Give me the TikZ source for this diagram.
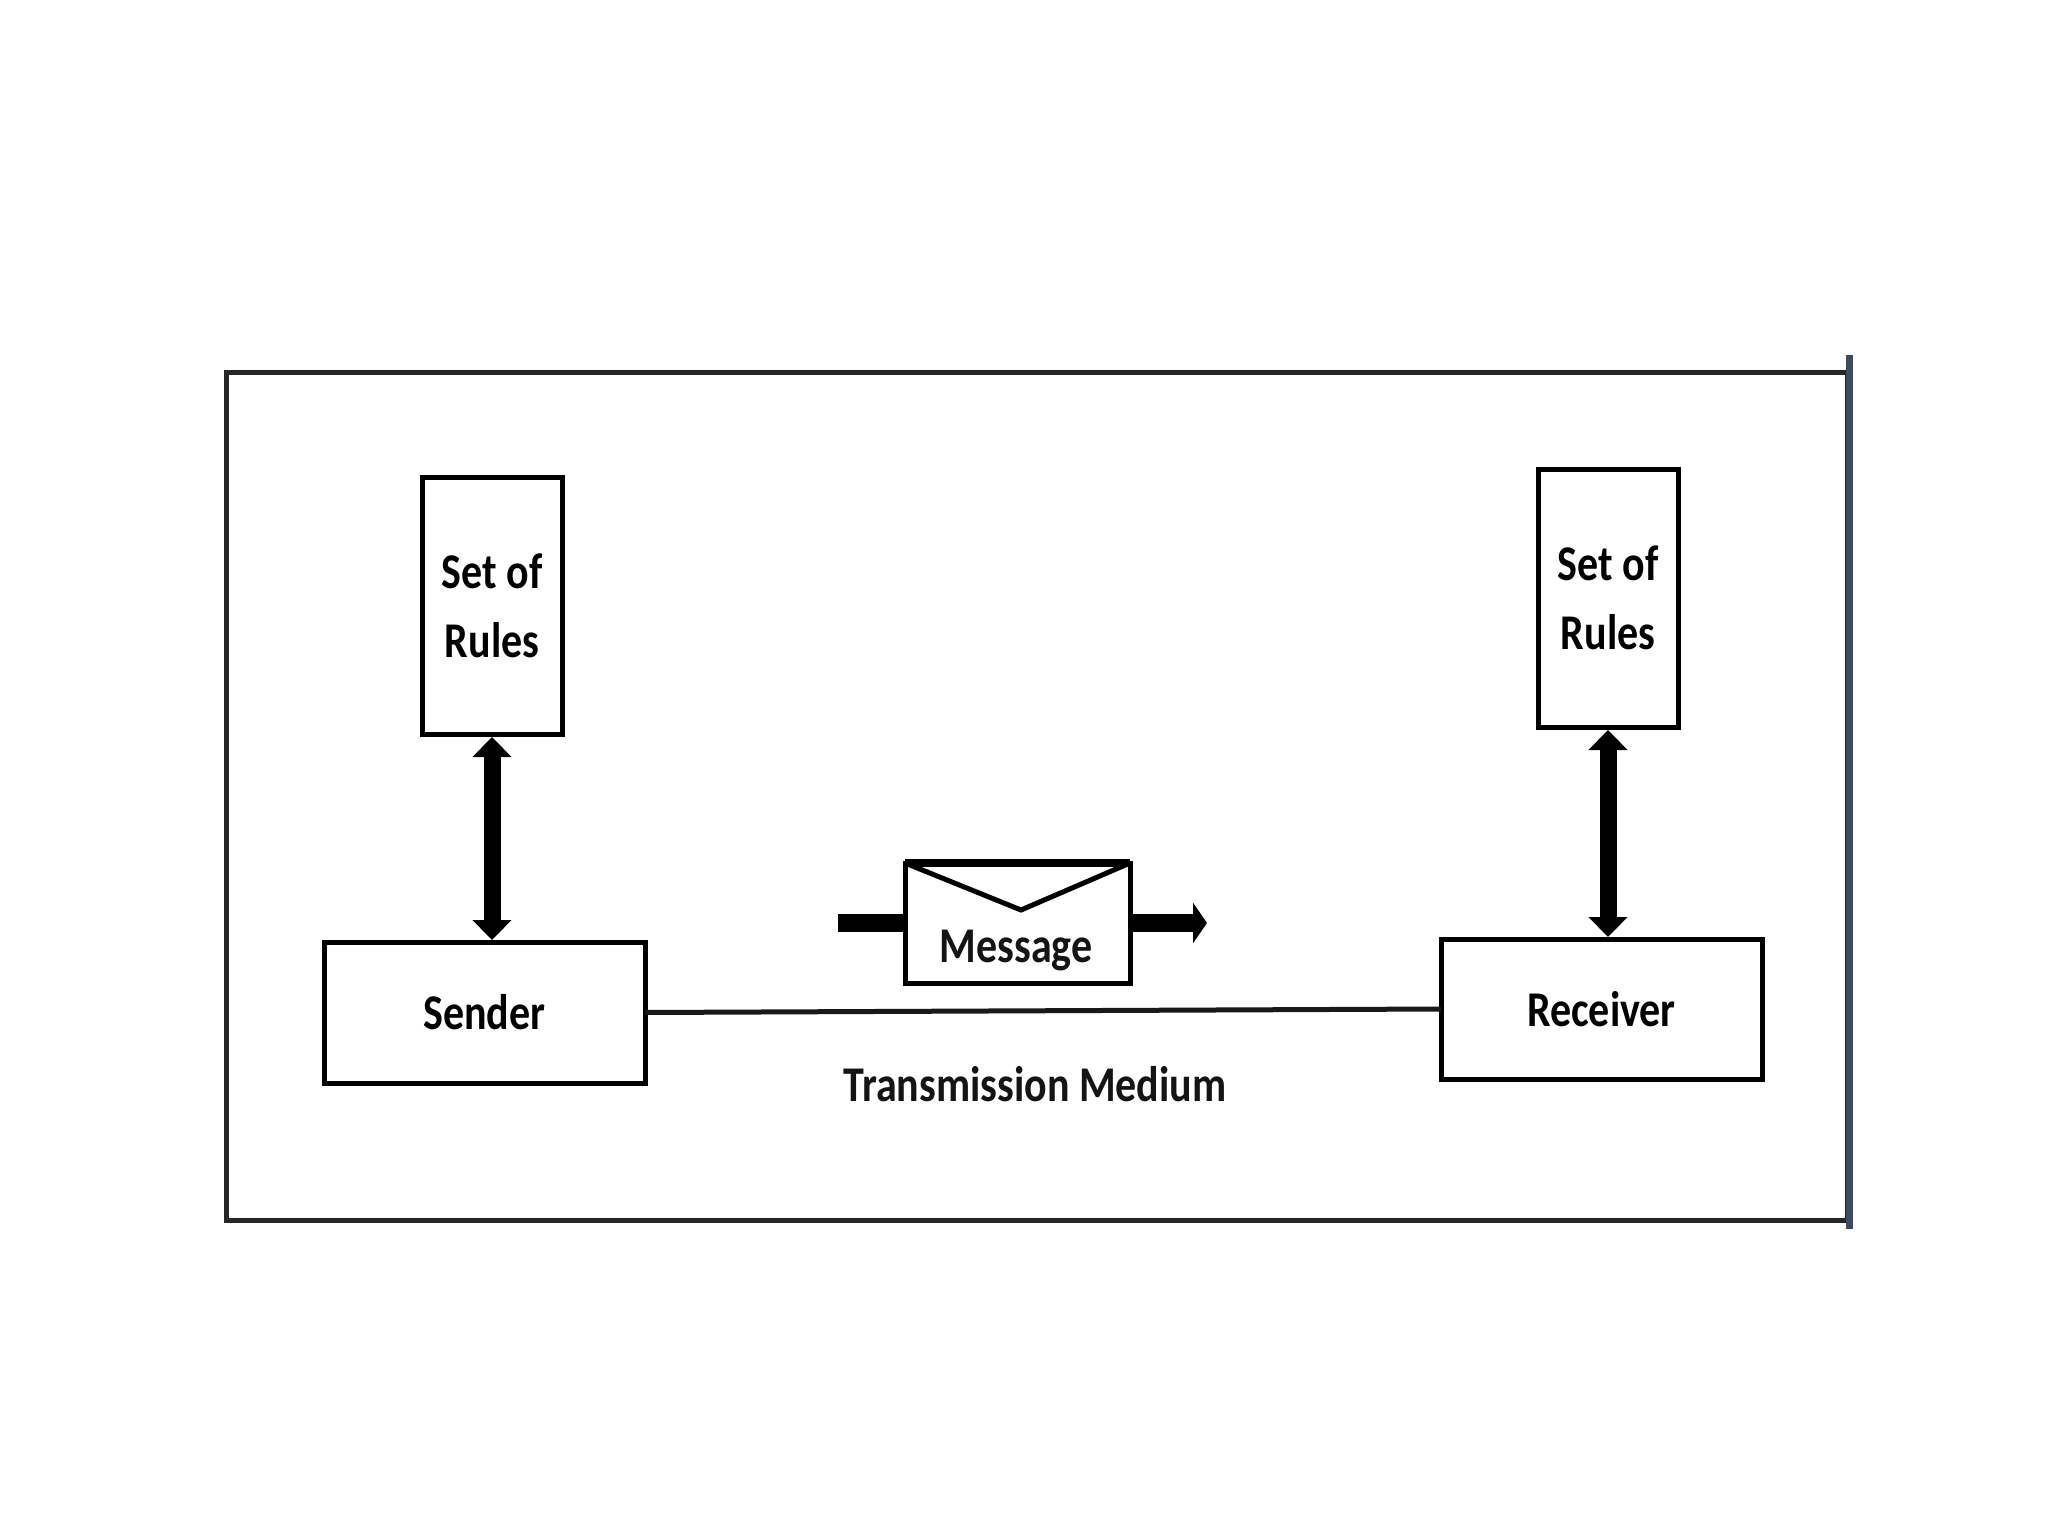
\documentclass[tikz,border=0pt]{standalone}
\usepackage{fontspec}
\setmainfont{Carlito Bold}[FakeStretch=0.84]
\usetikzlibrary{arrows.meta}
\tikzset{
  x=1pt,y=-1pt,
  box/.style={draw=black,line width=5pt,fill=white,inner sep=0pt,outer sep=0pt,align=center,font=\labelfont},
  label text/.style={inner sep=0pt,outer sep=0pt,text=black!92,font=\labelfont},
  duplex/.style={line width=17pt,{Triangle[width=38pt,length=20pt]}-{Triangle[width=38pt,length=20pt]},shorten >=2pt,shorten <=3pt},
  stub/.style={line width=18pt},
  medium/.style={line width=5pt,black!90},
}
\newcommand{\labelfont}{\fontsize{50}{69}\selectfont}
\begin{document}
\begin{tikzpicture}
\useasboundingbox[fill=white] (0,0) rectangle (2048,1536);
% outer frame
\coordinate (tl) at (226,372);
\coordinate (br) at (1847,1220);
\draw[line width=5pt,black!85] (tl) rectangle (br);
\coordinate (rt) at (1849,355);
\coordinate (rb) at (1849,1229);
\draw[line width=7pt,color={rgb,255:red,62;green,74;blue,96}] (rt) -- (rb);
% boxes
\node[box,minimum width=140pt,minimum height=257pt] (rulesL) at (492,605.5) {\raisebox{-2pt}{Set of}\\\raisebox{-2pt}{Rules}};
\node[box,minimum width=140pt,minimum height=258pt] (rulesR) at (1608,598) {Set of\\Rules};
\node[box,minimum width=321pt,minimum height=141pt] (sender) at (484.5,1012.5) {\raisebox{-1pt}{Sender}};
\node[box,minimum width=321pt,minimum height=140pt] (receiver) at (1601.5,1009) {\raisebox{-2pt}{Receiver}};
\node[box,minimum width=225pt,minimum height=120pt] (env) at (1017.5,923) {};
% connectors
\draw[duplex] (rulesL.south) -- (rulesL.south |- sender.north);
\draw[duplex] (rulesR.south) -- (rulesR.south |- receiver.north);
\draw[medium] (sender.east) -- (receiver.west);
% message
\coordinate (stubL) at (838,923);
\coordinate (stubR) at (1207,923);
\draw[stub] (stubL) -- (env.west);
\draw[stub,-{Triangle[width=40pt,length=14pt]}] (env.east) -- (stubR);
\coordinate (flap) at (1021,910);
\draw[line width=5pt] (env.north west) -- (flap) -- (env.north east);
\draw[line width=8pt] (env.north west) -- (env.north east);
\node[label text] (msg) at (1016,951) {Message};
\node[label text] (tm) at (1035,1084) {Transmission Medium};
\end{tikzpicture}
\end{document}
